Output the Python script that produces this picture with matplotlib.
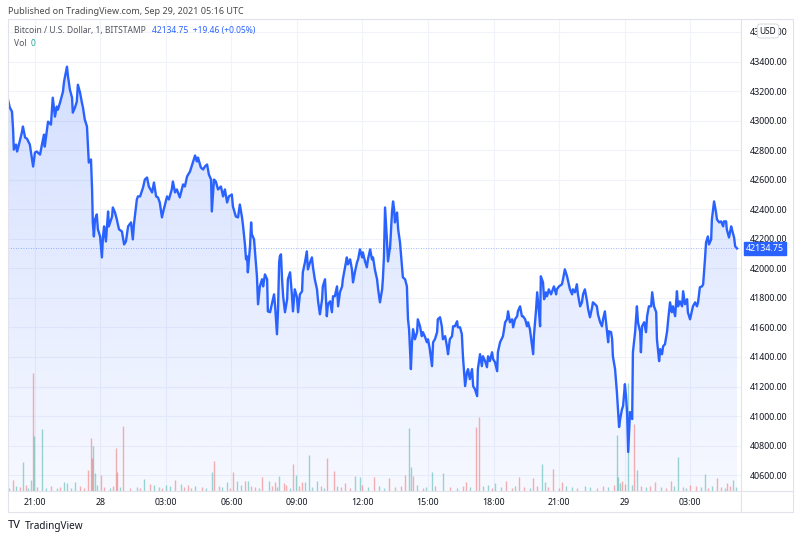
import matplotlib
matplotlib.use("Agg")
import matplotlib.pyplot as plt
import numpy as np
from matplotlib.patches import Rectangle
from matplotlib.lines import Line2D
from matplotlib.transforms import blended_transform_factory

plt.rcParams['font.family'] = ['Noto Sans', 'DejaVu Sans']

# minutes from Sep 27 2021 21:00 UTC, BTC/USD close (BITSTAMP, 1m)
minutes = [
    -74, -69, -63, -60, -58, -52, -49, -44, -36, -33, -27, -22, -14, -5, 0, 5, 14, 22, 25, 27,
    33, 36, 44, 49, 52, 55, 60, 63, 69, 77, 80, 88, 91, 96, 102, 104, 110, 115, 118, 124,
    129, 132, 137, 143, 146, 148, 154, 157, 159, 162, 165, 170, 173, 179, 184, 187, 190, 195, 201, 203,
    212, 214, 220, 225, 231, 239, 245, 250, 256, 264, 269, 272, 280, 283, 289, 297, 302, 308, 313, 322,
    327, 333, 338, 343, 349, 354, 363, 368, 376, 379, 385, 390, 398, 407, 412, 418, 426, 434, 440, 445,
    448, 456, 462, 467, 473, 478, 484, 486, 492, 497, 503, 511, 517, 522, 528, 533, 541, 544, 552, 558,
    563, 569, 572, 577, 580, 583, 585, 591, 594, 596, 602, 607, 610, 613, 618, 624, 627, 632, 638, 640,
    646, 651, 654, 657, 660, 665, 668, 671, 673, 676, 679, 682, 687, 693, 695, 701, 706, 709, 714, 720,
    723, 728, 734, 736, 742, 747, 750, 756, 761, 764, 769, 775, 778, 783, 789, 791, 797, 802, 805, 811,
    816, 819, 824, 830, 833, 838, 844, 846, 852, 857, 860, 866, 871, 874, 879, 885, 888, 893, 899, 901,
    907, 912, 915, 921, 926, 929, 934, 940, 943, 948, 954, 956, 959, 962, 967, 970, 976, 981, 984, 987,
    989, 995, 998, 1003, 1009, 1011, 1017, 1022, 1025, 1028, 1033, 1036, 1039, 1044, 1050, 1052, 1058, 1063, 1066, 1072,
    1077, 1080, 1085, 1091, 1094, 1099, 1105, 1107, 1113, 1118, 1121, 1127, 1132, 1135, 1140, 1146, 1149, 1154, 1160, 1162,
    1168, 1173, 1176, 1182, 1187, 1190, 1195, 1201, 1204, 1209, 1215, 1217, 1223, 1228, 1231, 1237, 1242, 1245, 1250, 1256,
    1259, 1264, 1270, 1272, 1278, 1286, 1292, 1297, 1300, 1305, 1311, 1314, 1319, 1325, 1327, 1333, 1338, 1341, 1347, 1352,
    1355, 1360, 1366, 1369, 1371, 1377, 1380, 1385, 1388, 1390, 1396, 1399, 1404, 1407, 1412, 1418, 1423, 1426, 1432, 1434,
    1440, 1448, 1451, 1456, 1462, 1465, 1470, 1476, 1478, 1484, 1489, 1492, 1498, 1503, 1506, 1511, 1517, 1520, 1525, 1531,
    1533, 1539, 1544, 1547, 1553, 1558, 1561, 1566, 1572, 1575, 1577, 1583, 1586, 1588, 1594, 1599, 1602, 1605, 1608, 1613,
    1616, 1621, 1624, 1627, 1630, 1635, 1641, 1643, 1649, 1654, 1657, 1663, 1665, 1668, 1674, 1679, 1682, 1687, 1693, 1696,
    1701, 1707, 1709, 1715, 1718, 1723, 1726, 1731, 1737, 1740, 1745, 1750, 1753, 1759, 1764, 1767, 1772, 1778, 1781, 1786,
    1792, 1794, 1800, 1805, 1808, 1814, 1819, 1822, 1827, 1833, 1836, 1841, 1844, 1849, 1852, 1858, 1860, 1866, 1871, 1874,
    1880, 1885, 1891, 1893, 1899, 1901, 1907, 1913, 1915, 1921, 1924, 1929,
]
prices = [
    43142, 43088, 43061, 42939, 42804, 42838, 42791, 42838, 42919, 42960, 42885, 42878, 42838, 42689, 42784, 42791, 42770, 42872, 42905, 42824,
    42939, 42993, 42973, 43155, 43088, 43027, 43095, 43074, 43122, 43196, 43264, 43365, 43297, 43210, 43155, 43054, 43088, 43128, 43243, 43189,
    43122, 43088, 43007, 42960, 42818, 42716, 42737, 42534, 42311, 42216, 42331, 42365, 42264, 42216, 42074, 42216, 42284, 42182, 42385, 42284,
    42351, 42412, 42378, 42331, 42264, 42250, 42162, 42182, 42284, 42311, 42196, 42297, 42466, 42487, 42487, 42547, 42601, 42615, 42554, 42514,
    42581, 42487, 42480, 42446, 42345, 42399, 42487, 42466, 42534, 42588, 42514, 42534, 42480, 42568, 42554, 42622, 42655, 42716, 42764, 42723,
    42750, 42682, 42669, 42689, 42703, 42635, 42601, 42385, 42601, 42588, 42534, 42554, 42487, 42534, 42446, 42487, 42500, 42419, 42351, 42345,
    42432, 42345, 42284, 42162, 42061, 42081, 41973, 42149, 42311, 42230, 42196, 42041, 41946, 41757, 41878, 41926, 41878, 41959, 41926, 41709,
    41703, 41757, 41791, 41824, 41743, 41554, 41723, 42041, 42081, 42095, 41926, 41811, 41703, 41791, 41926, 41973, 41824, 41709, 41858, 41804,
    41703, 41824, 41845, 41973, 42041, 42115, 41993, 42041, 42074, 42007, 41926, 41858, 41777, 41689, 41791, 41878, 41926, 41676, 41757, 41777,
    41703, 41811, 41811, 41878, 41743, 41838, 41878, 41926, 42007, 42074, 42027, 42061, 41993, 41905, 41973, 42041, 42061, 42128, 42074, 42108,
    42047, 42007, 42061, 42128, 42061, 42074, 41993, 41926, 41858, 41770, 41858, 41926, 42081, 42412, 42196, 42047, 42149, 42378, 42453, 42399,
    42311, 42378, 42264, 42176, 41993, 41939, 41926, 41878, 41655, 41588, 41318, 41500, 41588, 41520, 41568, 41655, 41608, 41541, 41568, 41534,
    41500, 41520, 41453, 41338, 41500, 41520, 41568, 41655, 41669, 41608, 41520, 41541, 41473, 41419, 41520, 41541, 41608, 41608, 41642, 41601,
    41601, 41554, 41405, 41203, 41297, 41318, 41250, 41318, 41203, 41182, 41135, 41318, 41419, 41338, 41405, 41372, 41331, 41405, 41372, 41432,
    41385, 41365, 41304, 41432, 41500, 41541, 41635, 41655, 41709, 41635, 41655, 41601, 41655, 41676, 41709, 41743, 41676, 41676, 41655, 41608,
    41635, 41588, 41473, 41419, 41541, 41723, 41838, 41703, 41608, 41946, 41905, 41791, 41838, 41811, 41858, 41824, 41858, 41878, 41824, 41858,
    41878, 41892, 41926, 41993, 41946, 41912, 41858, 41824, 41858, 41838, 41892, 41824, 41743, 41770, 41824, 41858, 41777, 41723, 41669, 41736,
    41770, 41757, 41743, 41689, 41635, 41608, 41655, 41709, 41568, 41500, 41574, 41568, 41520, 41405, 41318, 41162, 41047, 40926, 40980, 41047,
    41068, 41216, 41135, 41027, 40757, 41027, 40980, 41432, 41568, 41743, 41635, 41568, 41432, 41608, 41635, 41568, 41676, 41743, 41743, 41838,
    41743, 41703, 41520, 41372, 41453, 41419, 41473, 41486, 41574, 41655, 41770, 41703, 41743, 41676, 41845, 41743, 41777, 41743, 41845, 41757,
    41791, 41703, 41655, 41709, 41743, 41770, 41743, 41770, 41872, 41878, 41892, 42061, 42176, 42216, 42162, 42196, 42331, 42453, 42385, 42331,
    42311, 42318, 42284, 42318, 42318, 42264, 42209, 42284, 42264, 42209, 42149, 42134.75,
]

# volume bars: minute, size, direction (g = up candle, r = down candle)
vol_t = [
    -60, -33, -11, -5, -3, 19, 80, 88, 110, 146, 154, 157, 159, 165, 181, 223, 225, 242, 300, 316,
    327, 360, 385, 401, 420, 486, 492, 528, 544, 555, 577, 585, 624, 643, 660, 671, 684, 709, 717, 734,
    742, 753, 775, 802, 821, 852, 879, 893, 932, 973, 1017, 1028, 1033, 1039, 1091, 1121, 1184, 1212, 1220, 1245,
    1264, 1294, 1330, 1369, 1393, 1401, 1423, 1448, 1599, 1602, 1613, 1630, 1646, 1654, 1704, 1748, 1767, 1800, 1841, 1874,
    1902, 1918,
    -70, -52, -40, -25, -18, 5, 30, 45, 60, 70, 100, 125, 135, 170, 190, 205, 215, 235, 260, 280,
    290, 340, 350, 372, 410, 430, 440, 460, 470, 505, 515, 535, 565, 595, 605, 615, 650, 665, 690, 700,
    725, 760, 785, 795, 830, 840, 865, 900, 915, 945, 960, 990, 1005, 1050, 1065, 1075, 1100, 1140, 1160, 1175,
    1195, 1230, 1255, 1280, 1310, 1320, 1345, 1360, 1380, 1410, 1440, 1460, 1475, 1490, 1510, 1525, 1545, 1560, 1575, 1590,
    1608, 1620, 1640, 1665, 1680, 1690, 1720, 1735, 1755, 1780, 1790, 1815, 1830, 1850, 1860, 1885, 1895, 1910, 1925,
]
vol_v = [
    1.1, 2.9, 1.1, 11.8, 5.5, 6.2, 0.9, 0.8, 0.9, 2.1, 5.3, 3.3, 4.5, 1.8, 1.6, 4.3, 1.9, 6.5, 1.2, 0.7,
    0.6, 0.6, 1.1, 0.7, 0.6, 1.9, 3.0, 0.9, 1.9, 1.0, 1.0, 1.0, 1.4, 1.0, 0.9, 1.5, 0.8, 2.7, 1.6, 0.9,
    0.9, 3.6, 1.0, 3.3, 2.0, 0.8, 1.5, 1.4, 1.4, 1.3, 1.6, 6.3, 2.4, 1.5, 1.9, 1.8, 0.9, 6.4, 7.4, 0.6,
    0.8, 1.0, 1.4, 1.3, 2.7, 0.9, 2.2, 0.9, 5.6, 1.4, 1.0, 10.8, 6.7, 2.1, 0.9, 1.0, 3.4, 0.6, 1.7, 1.3,
    0.8, 1.1,
    0.3, 0.5, 0.4, 0.6, 0.3, 0.4, 0.3, 0.5, 0.3, 0.4, 0.3, 0.5, 0.3, 0.6, 0.4, 0.3, 0.5, 0.4, 0.3, 0.4,
    0.3, 0.4, 0.3, 0.5, 0.4, 0.3, 0.5, 0.4, 0.3, 0.5, 0.4, 0.3, 0.6, 0.5, 0.4, 0.3, 0.5, 0.4, 0.6, 0.3,
    0.5, 0.4, 0.5, 0.3, 0.5, 0.4, 0.3, 0.6, 0.4, 0.5, 0.3, 0.4, 0.5, 0.6, 0.3, 0.4, 0.5, 0.4, 0.3, 0.5,
    0.4, 0.5, 0.3, 0.4, 0.3, 0.5, 0.4, 0.3, 0.5, 0.4, 0.3, 0.5, 0.4, 0.3, 0.5, 0.4, 0.3, 0.5, 0.4, 0.6,
    0.8, 0.7, 0.6, 0.5, 0.4, 0.5, 0.4, 0.3, 0.5, 0.4, 0.3, 0.5, 0.4, 0.3, 0.5, 0.4, 0.3, 0.5, 0.4,
]
vol_dir = (
    "rggrggggg" "rrrggrrrrgr" "ggrgrgrgrgrgrgrgrrgrgg"
    "grrrggrrrggrggrrrggrrrgg" "rrggrgrgrrgrgrrgggrr"
    + "grgrgrgrrgrgrgrgrgrgrrgrgrgrgrrgrgrgrgrggrrrgggrrgrgrrgrggrgrgrgrrrggrggrrgrgrgrgrgrgrgrgrgrgrgrg"
)

time_ticks = [0, 180, 360, 540, 720, 900, 1080, 1260, 1440, 1620, 1800]
time_labels = ["21:00", "28", "03:00", "06:00", "09:00", "12:00", "15:00", "18:00", "21:00", "29", "03:00"]
price_ticks = list(range(40600, 43601, 200))
last_price = 42134.75

blue = "#2962ff"
grid_c = "#f0f3fa"
txt_c = "#131722"

fig = plt.figure(figsize=(8, 5.38), dpi=100)
W, H = 800, 538
ax = fig.add_axes([8 / W, 1 - 491 / H, 733 / W, 471 / H])
ax.set_xlim(-74, 1940)
ax.set_ylim(40493, 43681)

for s in ax.spines.values():
    s.set_visible(False)
ax.set_xticks(time_ticks)
ax.set_xticklabels(time_labels)
for lab in ax.get_xticklabels():
    if lab.get_text() in ("28", "29"):
        lab.set_fontweight("bold")
ax.set_yticks(price_ticks)
ax.set_yticklabels(["%.2f" % p for p in price_ticks])
ax.yaxis.tick_right()
ax.tick_params(axis="both", length=0, labelsize=6.4, colors=txt_c)
ax.tick_params(axis="y", pad=6)
ax.tick_params(axis="x", pad=5)
ax.grid(True, color=grid_c, lw=0.8)
ax.set_axisbelow(True)

# gradient area under the price line
poly = ax.fill_between(minutes, prices, 40493, facecolor="none", edgecolor="none")
grad = np.zeros((256, 1, 4))
grad[:, 0, 0] = 41 / 255
grad[:, 0, 1] = 98 / 255
grad[:, 0, 2] = 1.0
grad[:, 0, 3] = np.linspace(0.22, 0.04, 256)
im = ax.imshow(grad, extent=[-74, 1940, 40493, 43681], aspect="auto", origin="upper", zorder=1)
im.set_clip_path(poly.get_paths()[0], transform=ax.transData)

# volume bars in the lower part of the pane
vtrans = blended_transform_factory(ax.transData, ax.transAxes)
vol_top = 47.1
vcols = ["#26a69a" if d == "g" else "#ef5350" for d in vol_dir]
ax.vlines(vol_t, 0, np.array(vol_v) / vol_top, colors=vcols, alpha=0.45, lw=1.0,
          transform=vtrans, zorder=2)

ax.plot(minutes, prices, color=blue, lw=1.7, zorder=4)
ax.axhline(last_price, color=blue, lw=0.6, ls=(0, (1, 2)), alpha=0.6, zorder=3)

# last price label on the price scale
ptrans = blended_transform_factory(ax.transAxes, ax.transData)
ax.text(1.0 + 5 / 733, last_price, "42134.75", transform=ptrans, fontsize=6.4, color="white",
        va="center", ha="left", zorder=6,
        bbox=dict(boxstyle="square,pad=0.25", fc=blue, ec=blue))

# frame and separators
fig.patches.append(Rectangle((7.5 / W, 1 - 512 / H), 785 / W, 493 / H, transform=fig.transFigure,
                             fill=False, ec="#e0e3eb", lw=0.8))
fig.lines.append(Line2D([741 / W, 741 / W], [1 - 512 / H, 1 - 19 / H], transform=fig.transFigure,
                        color="#e0e3eb", lw=0.8))
fig.lines.append(Line2D([7.5 / W, 792.5 / W], [1 - 491 / H, 1 - 491 / H], transform=fig.transFigure,
                        color="#e0e3eb", lw=0.8))

# header texts
fig.text(8 / W, 1 - 12 / H, "Published on TradingView.com, Sep 29, 2021 05:16 UTC",
         fontsize=6.5, color="#4a4a4a", va="center")
fig.text(14 / W, 1 - 31 / H, "Bitcoin / U.S. Dollar, 1, BITSTAMP", fontsize=6.1,
         color="#50535e", va="center")
fig.text(152 / W, 1 - 31 / H, "42134.75  +19.46 (+0.05%)", fontsize=6.1, color=blue, va="center")
fig.text(14 / W, 1 - 44 / H, "Vol", fontsize=6.1, color="#50535e", va="center")
fig.text(31 / W, 1 - 44 / H, "0", fontsize=6.1, color="#26a69a", va="center")
fig.text(768 / W, 1 - 31 / H, "USD", fontsize=6.0, color=txt_c, va="center", ha="center", zorder=10,
         bbox=dict(boxstyle="round,pad=0.3,rounding_size=0.4", fc="white", ec="#d1d4dc", lw=0.6))

# footer logo
fig.text(8 / W, 1 - 526 / H, "TV", fontsize=8, fontweight="heavy", color="#131722", va="center")
fig.text(25 / W, 1 - 526 / H, "TradingView", fontsize=7.2, color="#131722", va="center")

fig.savefig("out.png", dpi=100)
